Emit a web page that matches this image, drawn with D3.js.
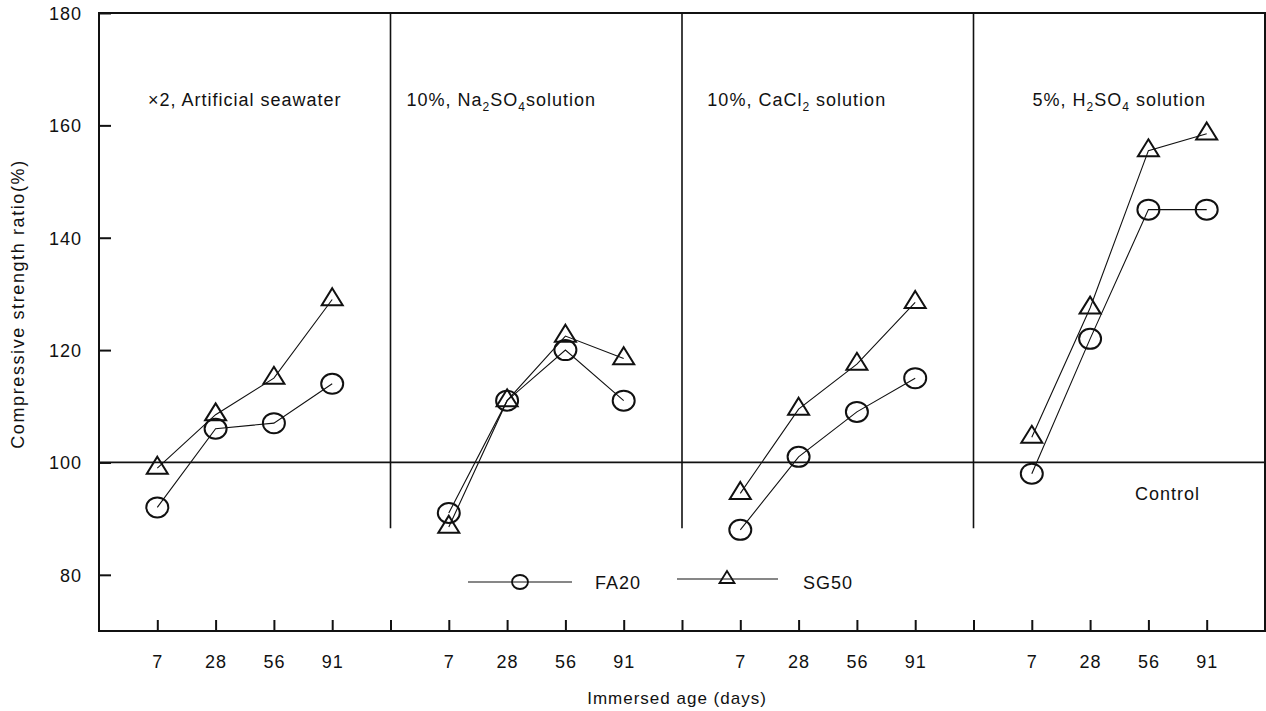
<!DOCTYPE html>
<html>
<head>
<meta charset="utf-8">
<script src="https://cdn.jsdelivr.net/npm/d3@7"></script>
<style>
  body { margin: 0; background: #fff; }
  text { font-family: "Liberation Sans", Arial, sans-serif; letter-spacing: 1px; fill: #111; }
</style>
</head>
<body>
<div id="chart"></div>
<script>
// solution labels, "_x" marks a subscript character
var panels = ["×2, Artificial seawater", "10%, Na_2SO_4solution", "10%, CaCl_2 solution", "5%, H_2SO_4 solution"];
var ages = [7, 28, 56, 91];
var yTicks = [80, 100, 120, 140, 160, 180];

var fa20 = [
  [92, 106, 107, 114],
  [91, 111, 120, 111],
  [88, 101, 109, 115],
  [98, 122, 145, 145]
];
var sg50 = [
  [99, 108.5, 115, 129],
  [88.5, 111, 122.5, 118.5],
  [94.5, 109.5, 117.5, 128.5],
  [104.5, 127.5, 155.5, 158.5]
];

var W = 1266, H = 711;
var margin = {top: 13, right: 1, bottom: 80, left: 99};
var slots = ages.length + 1;  // four ages + gap per panel
var labelShift = [0, -35, -31, 0];

var svg = d3.select("#chart").append("svg")
    .attr("width", W).attr("height", H);

var x = d3.scaleLinear()
    .domain([0, panels.length * slots])
    .range([margin.left, W - margin.right]);

var y = d3.scaleLinear()
    .domain([70, 180])
    .range([H - margin.bottom, margin.top]);

function xPos(p, i) { return x(p * slots + i + 1); }

// axes, ticks pointing inward
var xTickVals = d3.range(1, panels.length * slots + 1);
var xAxis = d3.axisBottom(x)
    .tickValues(xTickVals)
    .tickSize(-11)
    .tickPadding(24)
    .tickFormat(function(d) { var k = (d - 1) % slots; return k < ages.length ? ages[k] : ""; });

var gx = svg.append("g")
    .attr("transform", "translate(0," + y(70) + ")")
    .call(xAxis);
gx.select(".domain").remove();
gx.selectAll("line").attr("stroke", "#111").attr("stroke-width", 2);
gx.selectAll("text").style("font-size", "18px").attr("fill", "#111");

var yAxis = d3.axisLeft(y)
    .tickValues(yTicks)
    .tickSize(-12)
    .tickPadding(17);

var gy = svg.append("g")
    .attr("transform", "translate(" + x(0) + ",0)")
    .call(yAxis);
gy.select(".domain").remove();
gy.selectAll("line").attr("stroke", "#111").attr("stroke-width", 2);
gy.selectAll("text").style("font-size", "18px").attr("fill", "#111").attr("dy", "0.36em");

// frame
svg.append("rect")
    .attr("x", x(0)).attr("y", y(180))
    .attr("width", x(panels.length * slots) - x(0))
    .attr("height", y(70) - y(180))
    .attr("fill", "none").attr("stroke", "#111").attr("stroke-width", 2);

// panel dividers
svg.selectAll(".divider")
    .data(d3.range(1, panels.length))
    .enter().append("line")
    .attr("class", "divider")
    .attr("x1", function(d) { return x(d * slots); })
    .attr("x2", function(d) { return x(d * slots); })
    .attr("y1", y(180)).attr("y2", y(88.3))
    .attr("stroke", "#111").attr("stroke-width", 1.6);

// control line
svg.append("line")
    .attr("x1", x(0)).attr("x2", x(panels.length * slots))
    .attr("y1", y(100)).attr("y2", y(100))
    .attr("stroke", "#111").attr("stroke-width", 1.8);

svg.append("text")
    .attr("x", 1135).attr("y", 500)
    .style("font-size", "18px")
    .text("Control");

// panel labels with subscripts
panels.forEach(function(lab, p) {
  var t = svg.append("text")
      .attr("x", (x(p * slots) + x((p + 1) * slots)) / 2 + labelShift[p])
      .attr("y", 106)
      .attr("text-anchor", "middle")
      .style("font-size", "18px");
  var parts = lab.split(/(_.)/);
  var prevSub = false;
  parts.forEach(function(s) {
    if (!s) return;
    if (s[0] === "_") {
      t.append("tspan").attr("dy", prevSub ? 0 : 5).style("font-size", "12px").text(s[1]);
      prevSub = true;
    } else {
      t.append("tspan").attr("dy", prevSub ? -5 : 0).text(s);
      prevSub = false;
    }
  });
});

// series
var line = d3.line()
    .x(function(d) { return d.x; })
    .y(function(d) { return d.y; });

function pts(series, p) {
  return series[p].map(function(v, i) { return {x: xPos(p, i), y: y(v)}; });
}

var tri = function(cx, cy, w, h) {
  return "M" + cx + "," + (cy - h * 2 / 3) + "L" + (cx + w / 2) + "," + (cy + h / 3) + "L" + (cx - w / 2) + "," + (cy + h / 3) + "Z";
};

panels.forEach(function(lab, p) {
  var a = pts(fa20, p), b = pts(sg50, p);
  svg.append("path").attr("d", line(a)).attr("fill", "none").attr("stroke", "#111").attr("stroke-width", 1.1);
  svg.append("path").attr("d", line(b)).attr("fill", "none").attr("stroke", "#111").attr("stroke-width", 1.1);

  svg.selectAll(".fa" + p).data(a).enter().append("ellipse")
      .attr("cx", function(d) { return d.x; })
      .attr("cy", function(d) { return d.y; })
      .attr("rx", 11).attr("ry", 10)
      .attr("fill", "none").attr("stroke", "#111").attr("stroke-width", 2);

  svg.selectAll(".sg" + p).data(b).enter().append("path")
      .attr("d", function(d) { return tri(d.x, d.y, 21, 17); })
      .attr("fill", "none").attr("stroke", "#111").attr("stroke-width", 2)
      .attr("stroke-linejoin", "miter");
});

// legend
var lg = svg.append("g");
lg.append("line").attr("x1", 468).attr("x2", 572).attr("y1", 582).attr("y2", 582)
    .attr("stroke", "#111").attr("stroke-width", 1.1);
lg.append("ellipse").attr("cx", 520).attr("cy", 582).attr("rx", 8).attr("ry", 7)
    .attr("fill", "none").attr("stroke", "#111").attr("stroke-width", 1.8);
lg.append("text").attr("x", 595).attr("y", 589).style("font-size", "18px").text("FA20");
lg.append("line").attr("x1", 677).attr("x2", 778).attr("y1", 579).attr("y2", 579)
    .attr("stroke", "#111").attr("stroke-width", 1.1);
lg.append("path").attr("d", tri(727, 579, 15, 12))
    .attr("fill", "none").attr("stroke", "#111").attr("stroke-width", 1.8);
lg.append("text").attr("x", 803).attr("y", 589).style("font-size", "18px").text("SG50");

// axis titles
svg.append("text")
    .attr("x", (x(0) + x(panels.length * slots)) / 2 - 5)
    .attr("y", 704)
    .attr("text-anchor", "middle")
    .style("font-size", "17px")
    .text("Immersed age (days)");

svg.append("text")
    .attr("transform", "translate(24," + 304 + ") rotate(-90)")
    .attr("text-anchor", "middle")
    .style("font-size", "18px")
    .style("letter-spacing", "1.6px")
    .text("Compressive strength ratio(%)");
</script>
</body>
</html>
